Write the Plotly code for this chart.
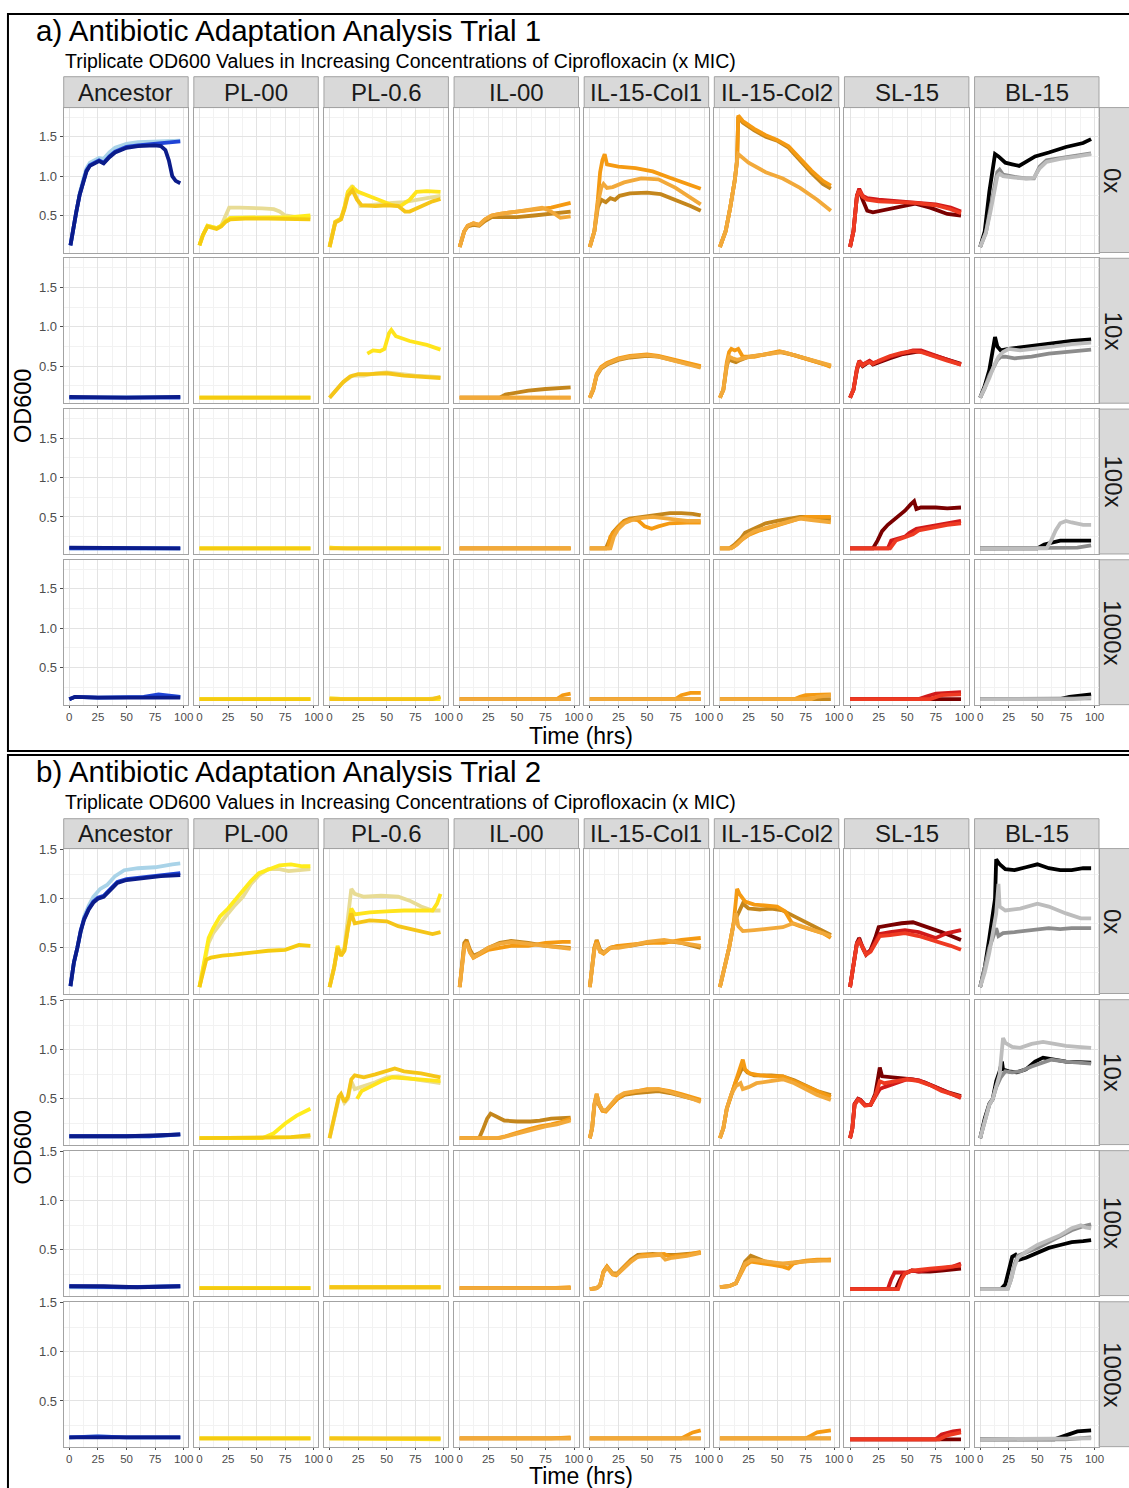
import plotly.graph_objects as go

W, H = 1129, 1488

STRAINS = ["Ancestor", "PL-00", "PL-0.6", "IL-00", "IL-15-Col1", "IL-15-Col2", "SL-15", "BL-15"]
CONCS = ["0x", "10x", "100x", "1000x"]
TRIAL_TITLES = ["a) Antibiotic Adaptation Analysis Trial 1", "b) Antibiotic Adaptation Analysis Trial 2"]
SUBTITLE = "Triplicate OD600 Values in Increasing Concentrations of Ciprofloxacin (x MIC)"
X_TITLE = "Time (hrs)"
Y_TITLE = "OD600"
X_TICKS = [0, 25, 50, 75, 100]
X_TICK_TEXT = ["0", "25", "50", "75", "100"]
Y_TICKS = [0.5, 1.0, 1.5]
Y_TICK_TEXT = ["0.5", "1.0", "1.5"]

REP_COLORS = [
    ["#a9d3e8", "#1f44d6", "#0b1c8a"],
    ["#e8dc95", "#ffec1c", "#f5cb10"],
    ["#e8dc95", "#ffe41c", "#f5c518"],
    ["#c4861c", "#f59a12", "#f2a93a"],
    ["#c4861c", "#f59a12", "#f2a93a"],
    ["#c4861c", "#f59a12", "#f2a93a"],
    ["#7a0000", "#d11a1a", "#ee3a22"],
    ["#000000", "#8c8c8c", "#bdbdbd"],
]

# ---------------- Trial 1 ----------------
T1_0X = [
    [  # Ancestor
        [(1,0.12),(3,0.3),(6,0.55),(9,0.78),(12,0.95),(15,1.1),(18,1.17),(22,1.2),(26,1.23),(30,1.22),(35,1.3),(40,1.36),(50,1.41),(60,1.43),(75,1.44),(97,1.45)],
        [(1,0.12),(3,0.3),(6,0.54),(9,0.76),(12,0.93),(15,1.07),(18,1.14),(22,1.17),(26,1.2),(30,1.17),(35,1.25),(40,1.31),(50,1.37),(60,1.39),(75,1.41),(97,1.44)],
        [(1,0.12),(3,0.3),(6,0.54),(9,0.76),(12,0.92),(15,1.06),(18,1.13),(22,1.16),(26,1.19),(30,1.16),(35,1.24),(40,1.3),(50,1.36),(60,1.38),(75,1.39),(80,1.38),(84,1.33),(87,1.2),(90,1.0),(93,0.94),(97,0.91)],
    ],
    [  # PL-00
        [(0,0.12),(3,0.25),(7,0.37),(11,0.36),(15,0.34),(19,0.37),(23,0.5),(26,0.6),(35,0.6),(45,0.6),(55,0.59),(65,0.58),(70,0.55),(75,0.5),(85,0.48),(97,0.48)],
        [(0,0.12),(3,0.25),(7,0.37),(11,0.36),(15,0.34),(19,0.37),(23,0.43),(27,0.47),(40,0.47),(60,0.47),(80,0.48),(97,0.5)],
        [(0,0.12),(3,0.25),(7,0.36),(11,0.35),(15,0.33),(19,0.36),(23,0.42),(27,0.45),(40,0.46),(60,0.46),(80,0.46),(97,0.45)],
    ],
    [  # PL-0.6
        [(0,0.1),(3,0.3),(5,0.42),(10,0.46),(13,0.6),(16,0.8),(20,0.88),(23,0.75),(27,0.62),(35,0.63),(45,0.65),(55,0.66),(65,0.67),(75,0.7),(85,0.72),(97,0.75)],
        [(0,0.1),(3,0.3),(5,0.42),(10,0.46),(13,0.6),(16,0.8),(20,0.86),(25,0.8),(35,0.74),(45,0.68),(55,0.63),(62,0.62),(70,0.7),(76,0.8),(85,0.81),(97,0.8)],
        [(0,0.1),(3,0.3),(5,0.41),(10,0.45),(13,0.58),(16,0.75),(20,0.82),(24,0.7),(28,0.63),(40,0.62),(50,0.63),(60,0.62),(66,0.55),(70,0.55),(80,0.62),(90,0.68),(97,0.71)],
    ],
    [  # IL-00
        [(0,0.1),(4,0.3),(7,0.36),(12,0.38),(17,0.37),(22,0.43),(28,0.48),(35,0.48),(50,0.48),(65,0.5),(80,0.52),(97,0.55)],
        [(0,0.1),(4,0.3),(7,0.37),(12,0.4),(17,0.38),(22,0.45),(28,0.5),(35,0.52),(50,0.55),(65,0.57),(80,0.6),(97,0.66)],
        [(0,0.1),(4,0.3),(7,0.37),(12,0.4),(17,0.38),(22,0.45),(28,0.5),(35,0.52),(50,0.55),(65,0.58),(72,0.6),(80,0.55),(88,0.47),(97,0.49)],
    ],
    [  # IL-15-Col1
        [(0,0.1),(4,0.3),(7,0.6),(10,0.7),(14,0.67),(18,0.72),(22,0.7),(26,0.75),(35,0.78),(50,0.79),(62,0.77),(75,0.7),(88,0.62),(97,0.56)],
        [(0,0.1),(4,0.3),(7,0.7),(9,1.05),(11,1.2),(13,1.28),(15,1.15),(25,1.12),(40,1.1),(55,1.06),(70,0.98),(85,0.9),(97,0.84)],
        [(0,0.1),(4,0.3),(7,0.65),(10,0.85),(12,0.9),(15,0.85),(20,0.86),(30,0.92),(45,0.97),(60,0.96),(75,0.85),(90,0.7),(97,0.64)],
    ],
    [  # IL-15-Col2
        [(0,0.1),(5,0.3),(9,0.6),(13,0.95),(15,1.2),(16,1.75),(20,1.68),(30,1.58),(40,1.5),(50,1.45),(60,1.36),(70,1.2),(80,1.04),(90,0.9),(97,0.84)],
        [(0,0.1),(5,0.3),(9,0.6),(13,0.95),(15,1.2),(16,1.77),(20,1.7),(30,1.6),(40,1.52),(50,1.46),(60,1.38),(70,1.23),(80,1.07),(90,0.94),(97,0.88)],
        [(0,0.1),(5,0.3),(9,0.6),(13,0.95),(15,1.2),(16,1.28),(25,1.17),(40,1.05),(55,0.97),(70,0.85),(85,0.7),(92,0.62),(97,0.56)],
    ],
    [  # SL-15
        [(0,0.1),(3,0.3),(6,0.75),(8,0.82),(11,0.7),(15,0.56),(20,0.54),(30,0.57),(45,0.62),(57,0.65),(70,0.6),(85,0.52),(97,0.5)],
        [(0,0.1),(3,0.3),(6,0.75),(8,0.84),(11,0.75),(15,0.72),(25,0.7),(40,0.68),(57,0.66),(75,0.64),(88,0.6),(97,0.55)],
        [(0,0.1),(3,0.3),(6,0.74),(8,0.82),(11,0.74),(15,0.7),(25,0.68),(40,0.67),(57,0.66),(75,0.63),(88,0.58),(97,0.53)],
    ],
    [  # BL-15
        [(0,0.1),(4,0.3),(8,0.8),(11,1.1),(13,1.28),(16,1.25),(22,1.17),(28,1.15),(34,1.13),(40,1.18),(48,1.25),(60,1.3),(75,1.37),(90,1.42),(97,1.47)],
        [(0,0.1),(5,0.28),(9,0.6),(12,0.85),(15,1.05),(17,1.08),(20,1.02),(30,0.99),(40,0.97),(47,0.97),(52,1.12),(58,1.2),(70,1.23),(85,1.26),(97,1.29)],
        [(0,0.1),(5,0.28),(9,0.55),(12,0.8),(15,1.0),(17,1.03),(20,1.0),(30,0.98),(40,0.97),(47,0.98),(52,1.1),(58,1.18),(70,1.22),(85,1.25),(97,1.28)],
    ],
]

T1_10X = [
    [  # Ancestor
        [(0,0.1),(50,0.1),(97,0.11)],
        [(0,0.1),(50,0.1),(97,0.1)],
        [(0,0.11),(50,0.1),(97,0.11)],
    ],
    [  # PL-00
        [(0,0.1),(97,0.1)],
        [(0,0.1),(97,0.1)],
        [(0,0.1),(97,0.1)],
    ],
    [  # PL-0.6
        [(0,0.1),(5,0.18),(10,0.27),(15,0.33),(20,0.38),(30,0.38),(40,0.41),(50,0.42),(60,0.4),(75,0.38),(97,0.36)],
        [(33,0.66),(38,0.7),(44,0.69),(48,0.72),(52,0.92),(54,0.96),(58,0.88),(70,0.82),(85,0.77),(97,0.71)],
        [(0,0.1),(6,0.2),(12,0.3),(18,0.37),(25,0.4),(35,0.4),(50,0.41),(65,0.38),(80,0.37),(97,0.35)],
    ],
    [  # IL-00
        [(0,0.1),(35,0.1),(40,0.14),(50,0.17),(60,0.19),(75,0.21),(90,0.22),(97,0.23)],
        [(0,0.1),(97,0.1)],
        [(0,0.1),(97,0.1)],
    ],
    [  # IL-15-Col1
        [(0,0.1),(3,0.2),(6,0.38),(10,0.47),(15,0.52),(25,0.58),(35,0.61),(50,0.63),(60,0.62),(75,0.57),(90,0.52),(97,0.49)],
        [(0,0.1),(3,0.2),(6,0.4),(10,0.49),(15,0.54),(25,0.6),(35,0.63),(50,0.65),(60,0.63),(75,0.58),(90,0.52),(97,0.5)],
        [(0,0.1),(3,0.21),(6,0.39),(10,0.48),(15,0.53),(25,0.59),(35,0.62),(50,0.64),(60,0.62),(75,0.56),(90,0.51),(97,0.48)],
    ],
    [  # IL-15-Col2
        [(0,0.1),(3,0.2),(6,0.5),(8,0.6),(10,0.57),(14,0.55),(18,0.58),(25,0.62),(40,0.65),(52,0.68),(65,0.64),(80,0.57),(97,0.5)],
        [(0,0.1),(3,0.2),(6,0.55),(8,0.68),(10,0.72),(13,0.7),(16,0.72),(20,0.62),(30,0.62),(40,0.65),(52,0.69),(60,0.66),(75,0.6),(90,0.53),(97,0.49)],
        [(0,0.1),(3,0.2),(6,0.52),(8,0.62),(11,0.6),(15,0.58),(20,0.6),(30,0.63),(45,0.66),(55,0.68),(70,0.62),(85,0.56),(97,0.51)],
    ],
    [  # SL-15
        [(0,0.1),(3,0.2),(6,0.45),(8,0.55),(11,0.5),(14,0.53),(17,0.56),(20,0.52),(25,0.55),(35,0.6),(45,0.65),(55,0.68),(62,0.69),(70,0.65),(85,0.58),(97,0.53)],
        [(0,0.1),(3,0.2),(6,0.47),(8,0.57),(11,0.52),(14,0.55),(17,0.57),(20,0.54),(25,0.56),(35,0.62),(45,0.66),(55,0.7),(62,0.7),(70,0.66),(85,0.58),(97,0.52)],
        [(0,0.1),(3,0.2),(6,0.46),(8,0.56),(11,0.51),(14,0.54),(17,0.55),(20,0.53),(25,0.57),(35,0.63),(45,0.67),(55,0.69),(62,0.68),(70,0.64),(85,0.57),(97,0.52)],
    ],
    [  # BL-15
        [(0,0.1),(4,0.25),(8,0.45),(11,0.7),(13,0.87),(15,0.75),(18,0.7),(25,0.72),(35,0.74),(50,0.76),(65,0.8),(80,0.82),(97,0.84)],
        [(0,0.1),(4,0.22),(8,0.38),(12,0.5),(15,0.58),(18,0.62),(22,0.62),(30,0.6),(45,0.62),(60,0.66),(75,0.68),(90,0.7),(97,0.71)],
        [(0,0.1),(4,0.22),(8,0.35),(12,0.5),(16,0.62),(20,0.68),(25,0.72),(35,0.7),(50,0.72),(65,0.75),(80,0.78),(97,0.8)],
    ],
]

T1_100X = [
    [  # Ancestor
        [(0,0.1),(97,0.1)],
        [(0,0.1),(97,0.1)],
        [(0,0.11),(50,0.1),(97,0.1)],
    ],
    [  # PL-00
        [(0,0.1),(97,0.1)],
        [(0,0.1),(97,0.1)],
        [(0,0.1),(97,0.1)],
    ],
    [  # PL-0.6
        [(0,0.11),(10,0.1),(97,0.1)],
        [(0,0.11),(15,0.1),(97,0.1)],
        [(0,0.1),(97,0.1)],
    ],
    [  # IL-00
        [(0,0.1),(97,0.1)],
        [(0,0.1),(97,0.1)],
        [(0,0.1),(97,0.1)],
    ],
    [  # IL-15-Col1
        [(0,0.1),(14,0.1),(17,0.2),(20,0.3),(25,0.38),(30,0.45),(35,0.48),(45,0.5),(55,0.53),(70,0.55),(80,0.55),(90,0.54),(97,0.52)],
        [(0,0.1),(16,0.1),(18,0.25),(22,0.32),(28,0.42),(35,0.47),(42,0.46),(48,0.38),(54,0.35),(60,0.38),(70,0.42),(85,0.43),(97,0.43)],
        [(0,0.1),(18,0.1),(21,0.25),(25,0.35),(30,0.42),(40,0.48),(55,0.5),(70,0.48),(85,0.45),(97,0.45)],
    ],
    [  # IL-15-Col2
        [(0,0.1),(8,0.1),(12,0.14),(18,0.22),(22,0.3),(30,0.35),(40,0.42),(50,0.45),(60,0.48),(70,0.5),(80,0.5),(90,0.48),(97,0.47)],
        [(0,0.1),(8,0.1),(12,0.12),(18,0.2),(25,0.27),(35,0.33),(45,0.37),(55,0.42),(65,0.46),(75,0.5),(85,0.5),(97,0.5)],
        [(0,0.1),(10,0.1),(15,0.15),(22,0.25),(30,0.32),(40,0.36),(50,0.4),(60,0.45),(70,0.48),(80,0.46),(97,0.43)],
    ],
    [  # SL-15
        [(0,0.1),(20,0.1),(24,0.2),(28,0.32),(33,0.4),(40,0.48),(48,0.58),(53,0.66),(56,0.7),(58,0.6),(62,0.62),(75,0.62),(85,0.61),(97,0.62)],
        [(0,0.1),(33,0.1),(36,0.2),(42,0.23),(48,0.25),(52,0.3),(58,0.35),(70,0.38),(85,0.42),(97,0.45)],
        [(0,0.1),(35,0.1),(40,0.2),(48,0.24),(55,0.28),(60,0.33),(70,0.36),(85,0.4),(97,0.42)],
    ],
    [  # BL-15
        [(0,0.1),(50,0.1),(56,0.15),(62,0.17),(70,0.2),(80,0.2),(97,0.2)],
        [(0,0.1),(70,0.1),(85,0.11),(97,0.14)],
        [(0,0.1),(58,0.1),(62,0.2),(66,0.33),(70,0.42),(75,0.45),(80,0.43),(90,0.4),(97,0.4)],
    ],
]

T1_1000X = [
    [  # Ancestor
        [(0,0.1),(5,0.13),(25,0.12),(50,0.12),(70,0.13),(80,0.14),(97,0.13)],
        [(0,0.1),(5,0.13),(25,0.12),(50,0.12),(65,0.13),(78,0.16),(88,0.14),(97,0.13)],
        [(0,0.1),(5,0.13),(25,0.12),(50,0.12),(70,0.12),(97,0.12)],
    ],
    [  # PL-00
        [(0,0.1),(97,0.1)],
        [(0,0.1),(97,0.1)],
        [(0,0.1),(97,0.1)],
    ],
    [  # PL-0.6
        [(0,0.11),(15,0.1),(85,0.1),(97,0.12)],
        [(0,0.11),(15,0.1),(97,0.1)],
        [(0,0.1),(90,0.1),(97,0.13)],
    ],
    [  # IL-00
        [(0,0.1),(97,0.1)],
        [(0,0.1),(85,0.1),(90,0.15),(97,0.17)],
        [(0,0.1),(97,0.1)],
    ],
    [  # IL-15-Col1
        [(0,0.1),(97,0.1)],
        [(0,0.1),(75,0.1),(80,0.15),(88,0.18),(97,0.18)],
        [(0,0.1),(97,0.1)],
    ],
    [  # IL-15-Col2
        [(0,0.1),(97,0.1)],
        [(0,0.1),(65,0.1),(70,0.13),(75,0.15),(97,0.16)],
        [(0,0.1),(80,0.1),(85,0.13),(97,0.15)],
    ],
    [  # SL-15
        [(0,0.1),(97,0.1)],
        [(0,0.1),(60,0.1),(68,0.14),(75,0.17),(97,0.19)],
        [(0,0.1),(70,0.1),(80,0.15),(97,0.16)],
    ],
    [  # BL-15
        [(0,0.1),(70,0.1),(78,0.13),(97,0.16)],
        [(0,0.1),(97,0.11)],
        [(0,0.1),(80,0.1),(97,0.12)],
    ],
]

# ---------------- Trial 2 ----------------
T2_0X = [
    [  # Ancestor
        [(1,0.11),(4,0.35),(7,0.5),(10,0.68),(13,0.82),(17,0.93),(21,1.02),(27,1.1),(33,1.14),(40,1.23),(48,1.29),(60,1.31),(75,1.32),(90,1.35),(97,1.36)],
        [(1,0.11),(4,0.35),(7,0.5),(10,0.68),(13,0.8),(17,0.9),(21,0.97),(25,1.01),(30,1.03),(35,1.09),(42,1.17),(50,1.2),(65,1.22),(80,1.24),(97,1.26)],
        [(1,0.11),(4,0.35),(7,0.5),(10,0.67),(13,0.79),(17,0.89),(21,0.96),(25,1.0),(30,1.02),(35,1.08),(42,1.16),(50,1.19),(65,1.21),(80,1.23),(97,1.24)],
    ],
    [  # PL-00
        [(0,0.1),(4,0.35),(8,0.55),(12,0.65),(18,0.75),(25,0.85),(30,0.92),(38,1.02),(45,1.15),(52,1.24),(60,1.3),(70,1.3),(78,1.28),(88,1.29),(97,1.3)],
        [(0,0.1),(4,0.35),(8,0.6),(12,0.7),(18,0.82),(25,0.9),(30,0.97),(38,1.07),(45,1.18),(52,1.26),(60,1.3),(70,1.34),(80,1.35),(90,1.33),(97,1.33)],
        [(0,0.1),(3,0.25),(6,0.38),(10,0.4),(20,0.42),(30,0.43),(45,0.45),(60,0.47),(75,0.48),(87,0.53),(97,0.52)],
    ],
    [  # PL-0.6
        [(0,0.1),(4,0.3),(7,0.5),(10,0.45),(13,0.5),(16,0.8),(19,1.1),(22,1.05),(30,1.02),(45,1.03),(60,1.02),(70,0.98),(80,0.92),(90,0.88),(97,0.88)],
        [(0,0.1),(4,0.3),(7,0.52),(10,0.42),(13,0.48),(16,0.7),(19,0.9),(22,0.84),(35,0.86),(50,0.87),(65,0.88),(80,0.88),(90,0.88),(94,0.95),(97,1.05)],
        [(0,0.1),(4,0.3),(7,0.5),(10,0.42),(13,0.47),(16,0.7),(19,0.85),(22,0.75),(35,0.78),(50,0.77),(60,0.72),(75,0.68),(90,0.64),(97,0.66)],
    ],
    [  # IL-00
        [(0,0.1),(2,0.35),(4,0.55),(6,0.58),(9,0.48),(12,0.42),(18,0.45),(25,0.5),(35,0.55),(45,0.57),(60,0.55),(75,0.52),(90,0.5),(97,0.5)],
        [(0,0.1),(2,0.33),(4,0.52),(6,0.56),(9,0.46),(12,0.4),(18,0.44),(25,0.48),(35,0.5),(45,0.52),(60,0.52),(75,0.55),(90,0.56),(97,0.56)],
        [(0,0.1),(2,0.33),(4,0.5),(6,0.55),(9,0.45),(12,0.4),(18,0.45),(25,0.5),(35,0.54),(45,0.56),(60,0.54),(75,0.52),(90,0.5),(97,0.49)],
    ],
    [  # IL-15-Col1
        [(0,0.1),(2,0.3),(4,0.5),(6,0.58),(9,0.48),(12,0.45),(18,0.5),(25,0.52),(35,0.52),(50,0.55),(65,0.57),(80,0.55),(97,0.5)],
        [(0,0.1),(2,0.3),(4,0.5),(6,0.57),(9,0.46),(12,0.44),(18,0.5),(25,0.52),(35,0.53),(50,0.55),(65,0.55),(80,0.58),(97,0.6)],
        [(0,0.1),(2,0.3),(4,0.48),(6,0.55),(9,0.46),(12,0.45),(18,0.5),(25,0.5),(35,0.52),(50,0.56),(65,0.58),(80,0.55),(97,0.52)],
    ],
    [  # IL-15-Col2
        [(0,0.1),(4,0.3),(8,0.5),(12,0.75),(16,0.85),(20,0.95),(25,0.9),(35,0.89),(45,0.9),(55,0.88),(65,0.82),(75,0.76),(85,0.7),(97,0.63)],
        [(0,0.1),(4,0.3),(8,0.5),(12,0.75),(15,1.1),(17,1.05),(22,0.97),(30,0.94),(40,0.93),(50,0.92),(57,0.87),(63,0.75),(70,0.72),(80,0.68),(90,0.65),(97,0.6)],
        [(0,0.1),(4,0.3),(8,0.5),(12,0.75),(14,0.85),(16,0.72),(20,0.67),(30,0.68),(45,0.7),(55,0.71),(64,0.75),(72,0.72),(85,0.67),(97,0.62)],
    ],
    [  # SL-15
        [(0,0.1),(3,0.3),(6,0.55),(8,0.6),(11,0.5),(14,0.43),(18,0.48),(22,0.6),(25,0.71),(35,0.73),(45,0.75),(55,0.76),(68,0.71),(80,0.66),(97,0.58)],
        [(0,0.1),(3,0.3),(6,0.55),(8,0.58),(11,0.5),(14,0.44),(18,0.47),(22,0.55),(26,0.64),(35,0.66),(48,0.68),(60,0.66),(75,0.6),(85,0.65),(97,0.68)],
        [(0,0.1),(3,0.3),(6,0.54),(8,0.57),(11,0.49),(14,0.43),(18,0.46),(22,0.54),(26,0.62),(35,0.63),(48,0.65),(60,0.62),(75,0.57),(88,0.52),(97,0.48)],
    ],
    [  # BL-15
        [(0,0.1),(4,0.3),(8,0.6),(11,0.85),(13,1.0),(14,1.4),(17,1.35),(22,1.3),(30,1.29),(40,1.32),(50,1.35),(60,1.31),(70,1.29),(80,1.29),(90,1.31),(97,1.31)],
        [(0,0.1),(4,0.3),(8,0.5),(11,0.6),(14,0.7),(16,0.62),(20,0.65),(30,0.66),(45,0.68),(60,0.7),(70,0.69),(80,0.7),(97,0.7)],
        [(0,0.1),(4,0.25),(8,0.45),(11,0.65),(14,0.85),(16,1.15),(17,0.92),(22,0.88),(35,0.9),(50,0.95),(60,0.92),(75,0.85),(88,0.8),(97,0.8)],
    ],
]

T2_10X = [
    [  # Ancestor
        [(0,0.12),(40,0.12),(70,0.12),(85,0.13),(97,0.14)],
        [(0,0.12),(40,0.12),(70,0.12),(85,0.13),(97,0.14)],
        [(0,0.12),(50,0.12),(80,0.13),(97,0.14)],
    ],
    [  # PL-00
        [(0,0.1),(97,0.11)],
        [(0,0.1),(55,0.1),(65,0.15),(75,0.25),(85,0.33),(97,0.4)],
        [(0,0.1),(80,0.11),(97,0.13)],
    ],
    [  # PL-0.6
        [(0,0.1),(4,0.3),(8,0.5),(10,0.54),(13,0.46),(16,0.5),(19,0.68),(22,0.6),(30,0.63),(40,0.67),(50,0.72),(60,0.73),(75,0.7),(90,0.67),(97,0.66)],
        [(24,0.5),(28,0.58),(35,0.62),(45,0.68),(55,0.72),(65,0.71),(80,0.7),(97,0.68)],
        [(0,0.1),(4,0.3),(8,0.52),(10,0.55),(13,0.47),(16,0.52),(19,0.7),(22,0.74),(30,0.72),(40,0.75),(50,0.79),(57,0.81),(65,0.78),(80,0.76),(97,0.72)],
    ],
    [  # IL-00
        [(0,0.1),(17,0.1),(20,0.18),(24,0.3),(27,0.35),(32,0.32),(39,0.28),(50,0.27),(62,0.27),(70,0.28),(80,0.3),(97,0.31)],
        [(0,0.1),(33,0.1),(40,0.12),(50,0.16),(60,0.19),(70,0.22),(80,0.24),(90,0.27),(97,0.3)],
        [(0,0.1),(35,0.1),(45,0.13),(55,0.16),(65,0.19),(75,0.22),(85,0.24),(97,0.28)],
    ],
    [  # IL-15-Col1
        [(0,0.1),(2,0.2),(4,0.43),(6,0.53),(8,0.44),(11,0.38),(14,0.38),(18,0.43),(24,0.5),(30,0.54),(40,0.56),(50,0.57),(60,0.58),(70,0.56),(80,0.53),(90,0.5),(97,0.48)],
        [(0,0.1),(2,0.2),(4,0.45),(6,0.55),(8,0.45),(11,0.38),(14,0.37),(18,0.42),(24,0.5),(30,0.55),(40,0.58),(50,0.6),(60,0.6),(70,0.58),(80,0.55),(90,0.51),(97,0.49)],
        [(0,0.1),(2,0.2),(4,0.44),(6,0.55),(8,0.45),(11,0.39),(14,0.38),(18,0.44),(24,0.52),(30,0.56),(40,0.58),(50,0.59),(60,0.6),(70,0.57),(80,0.54),(90,0.5),(97,0.47)],
    ],
    [  # IL-15-Col2
        [(0,0.1),(3,0.2),(6,0.4),(10,0.55),(14,0.68),(18,0.78),(20,0.82),(24,0.77),(30,0.74),(45,0.74),(55,0.73),(65,0.69),(75,0.63),(85,0.58),(97,0.54)],
        [(0,0.1),(3,0.2),(6,0.4),(10,0.55),(14,0.68),(18,0.82),(20,0.9),(22,0.8),(26,0.76),(35,0.74),(45,0.73),(55,0.73),(65,0.68),(75,0.62),(85,0.57),(97,0.52)],
        [(0,0.1),(3,0.2),(6,0.4),(10,0.55),(14,0.63),(18,0.66),(20,0.6),(25,0.62),(32,0.66),(45,0.68),(55,0.7),(65,0.66),(75,0.6),(85,0.54),(97,0.49)],
    ],
    [  # SL-15
        [(0,0.1),(2,0.2),(4,0.45),(7,0.5),(9,0.49),(13,0.44),(18,0.44),(22,0.55),(25,0.75),(26,0.82),(28,0.73),(35,0.72),(45,0.71),(55,0.7),(65,0.67),(75,0.62),(85,0.57),(97,0.53)],
        [(0,0.1),(2,0.2),(4,0.45),(7,0.5),(9,0.49),(13,0.44),(18,0.44),(22,0.52),(26,0.6),(30,0.62),(40,0.66),(50,0.7),(60,0.69),(70,0.64),(80,0.59),(90,0.54),(97,0.51)],
        [(0,0.1),(2,0.2),(4,0.44),(7,0.49),(9,0.48),(13,0.43),(18,0.44),(22,0.53),(26,0.68),(30,0.66),(40,0.68),(50,0.7),(60,0.68),(70,0.64),(80,0.58),(90,0.54),(97,0.52)],
    ],
    [  # BL-15
        [(0,0.1),(4,0.3),(8,0.45),(11,0.5),(14,0.68),(17,0.78),(19,0.88),(20,0.8),(25,0.78),(32,0.77),(40,0.8),(48,0.88),(55,0.92),(65,0.9),(75,0.88),(97,0.87)],
        [(0,0.1),(4,0.28),(8,0.44),(11,0.5),(14,0.62),(18,0.72),(22,0.78),(28,0.77),(35,0.78),(45,0.83),(55,0.87),(62,0.9),(75,0.88),(97,0.86)],
        [(0,0.1),(4,0.28),(8,0.44),(11,0.5),(14,0.62),(17,0.75),(20,1.12),(22,1.07),(28,1.03),(35,1.02),(45,1.06),(55,1.08),(65,1.06),(75,1.04),(85,1.03),(97,1.02)],
    ],
]

T2_100X = [
    [  # Ancestor
        [(0,0.12),(50,0.12),(97,0.13)],
        [(0,0.13),(50,0.12),(97,0.13)],
        [(0,0.13),(30,0.13),(60,0.12),(97,0.13)],
    ],
    [  # PL-00
        [(0,0.11),(97,0.11)],
        [(0,0.11),(97,0.11)],
        [(0,0.11),(97,0.11)],
    ],
    [  # PL-0.6
        [(0,0.12),(97,0.12)],
        [(0,0.12),(97,0.12)],
        [(0,0.12),(97,0.12)],
    ],
    [  # IL-00
        [(0,0.11),(97,0.11)],
        [(0,0.11),(80,0.11),(97,0.12)],
        [(0,0.11),(97,0.11)],
    ],
    [  # IL-15-Col1
        [(0,0.1),(6,0.11),(9,0.14),(12,0.28),(15,0.33),(17,0.3),(20,0.26),(24,0.26),(30,0.33),(36,0.4),(42,0.45),(55,0.46),(65,0.45),(75,0.45),(85,0.46),(97,0.47)],
        [(0,0.1),(6,0.11),(9,0.14),(12,0.28),(15,0.33),(17,0.3),(20,0.25),(23,0.24),(28,0.3),(33,0.36),(40,0.42),(46,0.45),(55,0.45),(65,0.46),(70,0.43),(75,0.44),(85,0.45),(97,0.48)],
        [(0,0.1),(6,0.11),(9,0.14),(12,0.27),(15,0.32),(17,0.29),(20,0.25),(24,0.25),(30,0.32),(36,0.38),(42,0.43),(55,0.44),(62,0.45),(66,0.4),(72,0.42),(85,0.44),(97,0.47)],
    ],
    [  # IL-15-Col2
        [(0,0.12),(8,0.13),(14,0.16),(18,0.28),(22,0.38),(27,0.44),(32,0.42),(40,0.38),(50,0.36),(60,0.36),(70,0.38),(80,0.39),(97,0.4)],
        [(0,0.12),(8,0.13),(14,0.16),(18,0.26),(22,0.34),(27,0.38),(35,0.37),(45,0.35),(55,0.33),(60,0.31),(64,0.36),(75,0.39),(85,0.4),(97,0.4)],
        [(0,0.12),(8,0.13),(14,0.16),(18,0.27),(22,0.36),(28,0.4),(35,0.39),(45,0.37),(55,0.36),(62,0.37),(72,0.38),(85,0.39),(97,0.39)],
    ],
    [  # SL-15
        [(0,0.1),(40,0.1),(43,0.18),(46,0.25),(50,0.27),(54,0.29),(60,0.28),(70,0.28),(80,0.29),(90,0.3),(97,0.31)],
        [(0,0.1),(33,0.1),(36,0.2),(39,0.27),(45,0.27),(50,0.27),(54,0.29),(60,0.28),(70,0.3),(80,0.31),(90,0.33),(97,0.36)],
        [(0,0.1),(42,0.1),(45,0.2),(48,0.26),(54,0.29),(60,0.3),(70,0.31),(80,0.32),(90,0.33),(97,0.34)],
    ],
    [  # BL-15
        [(0,0.1),(18,0.1),(22,0.15),(25,0.3),(28,0.43),(31,0.45),(34,0.4),(40,0.42),(50,0.47),(60,0.52),(70,0.55),(80,0.58),(90,0.59),(97,0.6)],
        [(0,0.1),(24,0.1),(27,0.2),(30,0.35),(33,0.44),(40,0.47),(50,0.52),(60,0.58),(70,0.64),(80,0.7),(90,0.74),(97,0.76)],
        [(0,0.1),(24,0.1),(27,0.2),(30,0.33),(33,0.42),(40,0.48),(50,0.55),(60,0.6),(70,0.65),(80,0.72),(88,0.75),(92,0.73),(97,0.72)],
    ],
]

T2_1000X = [
    [  # Ancestor
        [(0,0.13),(25,0.14),(50,0.13),(75,0.13),(97,0.13)],
        [(0,0.13),(25,0.14),(50,0.13),(75,0.13),(97,0.13)],
        [(0,0.13),(25,0.13),(50,0.13),(97,0.13)],
    ],
    [  # PL-00
        [(0,0.12),(97,0.12)],
        [(0,0.12),(97,0.12)],
        [(0,0.12),(97,0.12)],
    ],
    [  # PL-0.6
        [(0,0.12),(97,0.12)],
        [(0,0.12),(97,0.11)],
        [(0,0.12),(97,0.12)],
    ],
    [  # IL-00
        [(0,0.12),(97,0.12)],
        [(0,0.12),(80,0.12),(97,0.13)],
        [(0,0.12),(97,0.12)],
    ],
    [  # IL-15-Col1
        [(0,0.12),(97,0.12)],
        [(0,0.12),(80,0.12),(85,0.15),(90,0.18),(97,0.2)],
        [(0,0.12),(97,0.12)],
    ],
    [  # IL-15-Col2
        [(0,0.12),(97,0.12)],
        [(0,0.12),(75,0.12),(80,0.15),(85,0.18),(97,0.2)],
        [(0,0.12),(97,0.12)],
    ],
    [  # SL-15
        [(0,0.11),(97,0.11)],
        [(0,0.11),(75,0.11),(80,0.16),(90,0.19),(97,0.2)],
        [(0,0.11),(78,0.11),(85,0.15),(97,0.18)],
    ],
    [  # BL-15
        [(0,0.11),(65,0.11),(75,0.15),(85,0.19),(97,0.2)],
        [(0,0.11),(75,0.11),(97,0.13)],
        [(0,0.11),(97,0.12)],
    ],
]

TRIAL_DATA = [[T1_0X, T1_10X, T1_100X, T1_1000X], [T2_0X, T2_10X, T2_100X, T2_1000X]]

# ---------------- layout geometry (pixels) ----------------
COL_LEFT = [64 + c * 130.7 for c in range(8)]
COL_W = 125
ROW_TOP = [[102, 253.3, 404.7, 556], [846, 997.7, 1149.3, 1301]]
ROW_H = 145.5
STRIP_TOP = [71, 816]
STRIP_H = [31, 30]
Y_RANGE = [[0.03, 1.87], [0.035, 1.51]]
X_RANGE = [-4.9, 103.9]
TITLE_Y = [25, 769]
SUB_Y = [55, 799]
XTITLE_Y = [733, 1476]
BOX = [(8, 8, 1140, 748), (8, 752, 1140, 1495)]

FONT = "Liberation Sans, Arial, Helvetica, sans-serif"


def px(x):
    return x / W


def py(y):
    return 1 - y / H


fig = go.Figure()
layout = dict(
    width=W, height=H, autosize=False,
    margin=dict(l=0, r=0, t=0, b=0),
    paper_bgcolor="white", plot_bgcolor="white",
    showlegend=False,
    font=dict(family=FONT, color="#1a1a1a"),
)
shapes = []
annotations = []

for p in range(2):
    for r in range(4):
        for c in range(8):
            idx = p * 32 + r * 8 + c + 1
            xn = "x" if idx == 1 else f"x{idx}"
            yn = "y" if idx == 1 else f"y{idx}"
            xk = "xaxis" if idx == 1 else f"xaxis{idx}"
            yk = "yaxis" if idx == 1 else f"yaxis{idx}"
            l = COL_LEFT[c]
            t = ROW_TOP[p][r]
            bottom_row = (r == 3)
            left_col = (c == 0)
            layout[xk] = dict(
                domain=[px(l), px(l + COL_W)], range=X_RANGE, anchor=yn,
                showgrid=True, gridcolor="#e3e3e3", gridwidth=1, zeroline=False,
                showline=True, linecolor="#a3a3a3", linewidth=1, mirror=True,
                tickvals=X_TICKS, ticktext=X_TICK_TEXT,
                showticklabels=bottom_row,
                ticks="outside" if bottom_row else "", ticklen=2, tickcolor="#4d4d4d",
                tickfont=dict(size=11.5, color="#4d4d4d", family=FONT),
                minor=dict(tickvals=[12.5, 37.5, 62.5, 87.5], showgrid=True,
                           gridcolor="#f2f2f2", gridwidth=1, ticks=""),
                fixedrange=True,
            )
            layout[yk] = dict(
                domain=[py(t + ROW_H), py(t)], range=Y_RANGE[p], anchor=xn,
                showgrid=True, gridcolor="#e3e3e3", gridwidth=1, zeroline=False,
                showline=True, linecolor="#a3a3a3", linewidth=1, mirror=True,
                tickvals=Y_TICKS, ticktext=Y_TICK_TEXT,
                showticklabels=left_col,
                ticks="outside" if left_col else "", ticklen=3, tickcolor="#4d4d4d",
                tickfont=dict(size=13, color="#4d4d4d", family=FONT),
                minor=dict(tickvals=[0.25, 0.75, 1.25, 1.75], showgrid=True,
                           gridcolor="#f2f2f2", gridwidth=1, ticks=""),
                fixedrange=True,
            )
            reps = TRIAL_DATA[p][r][c]
            for k, rep in enumerate(reps):
                fig.add_trace(go.Scatter(
                    x=[q[0] for q in rep], y=[q[1] for q in rep],
                    mode="lines",
                    line=dict(color=REP_COLORS[c][k], width=3.8),
                    xaxis=xn, yaxis=yn, hoverinfo="skip", showlegend=False,
                ))

    # column strips
    for c in range(8):
        l = COL_LEFT[c]
        shapes.append(dict(type="rect", xref="paper", yref="paper",
                           x0=px(l), x1=px(l + COL_W),
                           y0=py(STRIP_TOP[p] + STRIP_H[p]), y1=py(STRIP_TOP[p]),
                           fillcolor="#d9d9d9", line=dict(color="#a3a3a3", width=1), layer="below"))
        annotations.append(dict(text=STRAINS[c], xref="paper", yref="paper",
                                x=px(l + COL_W / 2), y=py(STRIP_TOP[p] + STRIP_H[p] / 2),
                                xanchor="center", yanchor="middle", showarrow=False,
                                font=dict(size=24, color="#1a1a1a", family=FONT)))
    # row strips
    for r in range(4):
        t = ROW_TOP[p][r]
        shapes.append(dict(type="rect", xref="paper", yref="paper",
                           x0=px(1104), x1=px(1150),
                           y0=py(t + ROW_H), y1=py(t),
                           fillcolor="#d9d9d9", line=dict(color="#a3a3a3", width=1), layer="below"))
        annotations.append(dict(text=CONCS[r], xref="paper", yref="paper",
                                x=px(1118), y=py(t + ROW_H / 2), textangle=90,
                                xanchor="center", yanchor="middle", showarrow=False,
                                font=dict(size=24, color="#1a1a1a", family=FONT)))
    # titles
    annotations.append(dict(text=TRIAL_TITLES[p], xref="paper", yref="paper",
                            x=px(34), y=py(TITLE_Y[p]), xanchor="left", yanchor="middle",
                            showarrow=False, font=dict(size=29.5, color="#000000", family=FONT)))
    annotations.append(dict(text=SUBTITLE, xref="paper", yref="paper",
                            x=px(63), y=py(SUB_Y[p]), xanchor="left", yanchor="middle",
                            showarrow=False, font=dict(size=19.5, color="#000000", family=FONT)))
    annotations.append(dict(text=X_TITLE, xref="paper", yref="paper",
                            x=px(584), y=py(XTITLE_Y[p]), xanchor="center", yanchor="middle",
                            showarrow=False, font=dict(size=23, color="#000000", family=FONT)))
    mid = (ROW_TOP[p][0] + ROW_TOP[p][3] + ROW_H) / 2
    annotations.append(dict(text=Y_TITLE, xref="paper", yref="paper",
                            x=px(23), y=py(mid), textangle=-90, xanchor="center", yanchor="middle",
                            showarrow=False, font=dict(size=23.5, color="#000000", family=FONT)))
    bx0, by0, bx1, by1 = BOX[p]
    shapes.append(dict(type="rect", xref="paper", yref="paper",
                       x0=px(bx0), x1=px(bx1), y0=py(by1), y1=py(by0),
                       line=dict(color="#000000", width=2), fillcolor="rgba(0,0,0,0)", layer="above"))

layout["shapes"] = shapes
layout["annotations"] = annotations
fig.update_layout(**layout)
fig.write_html("out.html")
